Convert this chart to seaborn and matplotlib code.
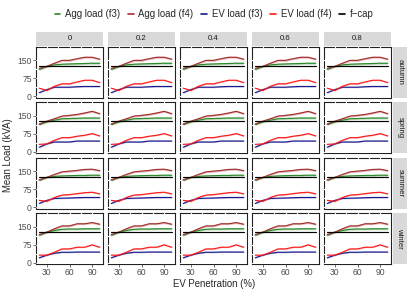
import pandas as pd
import matplotlib
matplotlib.use("Agg")
import matplotlib.pyplot as plt
import seaborn as sns

# ---- data ----
pen = [20, 30, 40, 50, 60, 70, 80, 90, 100]
shares = ["0", "0.2", "0.4", "0.6", "0.8"]
seasons = ["autumn", "spring", "summer", "winter"]

fcap = {"autumn": 125, "spring": 127, "summer": 125, "winter": 127}

agg_f3 = {
    "autumn": [111, 124, 130, 133, 134, 135, 136, 137, 137],
    "spring": [113, 124, 131, 137, 138, 139, 140, 140, 140],
    "summer": [112, 124, 128, 130, 131, 132, 132, 133, 133],
    "winter": [114, 127, 134, 139, 140, 140, 141, 141, 141],
}
agg_f4 = {
    "autumn": [116, 124, 137, 149, 149, 156, 162, 162, 154],
    "spring": [115, 127, 137, 148, 151, 155, 161, 168, 158],
    "summer": [114, 124, 136, 147, 150, 153, 157, 158, 152],
    "winter": [117, 127, 141, 153, 153, 162, 162, 167, 160],
}
ev_f3 = {
    "autumn": [14, 27, 37, 37, 37, 39, 40, 40, 40],
    "spring": [18, 32, 40, 40, 40, 44, 44, 44, 44],
    "summer": [15, 28, 36, 37, 38, 39, 40, 40, 40],
    "winter": [20, 31, 39, 43, 43, 44, 44, 44, 44],
}
ev_f4 = {
    "autumn": [33, 23, 41, 51, 51, 59, 66, 66, 56],
    "spring": [30, 32, 47, 58, 58, 64, 68, 75, 65],
    "summer": [28, 24, 40, 50, 52, 56, 60, 62, 55],
    "winter": [31, 31, 43, 57, 57, 64, 64, 74, 64],
}

series_names = ["Agg load (f3)", "Agg load (f4)", "EV load (f3)", "EV load (f4)", "f\u2212cap"]
series_colors = ["#2b8a2b", "#a53030", "#1a1a8c", "#ff1a1a", "black"]
band_width = [4, 4, 2, 2, 0]   # half width of the shaded ribbon

# long table for seaborn
rows = []
for s in seasons:
    for sh in shares:
        vals = [agg_f3[s], agg_f4[s], ev_f3[s], ev_f4[s], [fcap[s]] * len(pen)]
        for name, v in zip(series_names, vals):
            for x, y in zip(pen, v):
                rows.append({"season": s, "share": sh, "series": name, "pen": x, "load": y})
df = pd.DataFrame(rows)

# ---- figure ----
sns.set_theme(style="white")
plt.rcParams['font.family'] = ['Liberation Sans', 'DejaVu Sans']

W, H = 411, 294
fig = plt.figure(figsize=(W / 100, H / 100), dpi=100)

col_left = [36, 108, 180, 252, 324]
row_top = [46.5, 102, 157.5, 213]
pw, ph = 67, 51

def rect(l, t, w, h):
    return [l / W, 1 - (t + h) / H, w / W, h / H]

palette = dict(zip(series_names, series_colors))

for i, s in enumerate(seasons):
    for j, sh in enumerate(shares):
        ax = fig.add_axes(rect(col_left[j], row_top[i], pw, ph))
        sub = df[(df.season == s) & (df.share == sh)]
        for name, c, bw in zip(series_names, series_colors, band_width):
            d = sub[sub.series == name]
            if bw > 0:
                ax.fill_between(d.pen, d.load - bw, d.load + bw, color=c, alpha=0.3, lw=0, zorder=2.8)
        sns.lineplot(data=sub, x="pen", y="load", hue="series", hue_order=series_names,
                     palette=palette, ax=ax, legend=False, lw=0.85, zorder=3)
        ax.set_xlim(15.7, 104.3)
        ax.set_ylim(-6, 207)
        ax.set_xticks([30, 60, 90])
        ax.set_xticks([45, 75], minor=True)
        ax.set_yticks([0, 75, 150])
        ax.set_yticks([37.5, 112.5], minor=True)
        ax.set_axisbelow(False)
        ax.grid(which="both", color="white", lw=0.9)
        for sp in ax.spines.values():
            sp.set_color("#222222")
            sp.set_linewidth(0.8)
            sp.set_zorder(2)
        ax.set_xlabel("")
        ax.set_ylabel("")
        ax.tick_params(which="major", length=2, width=0.5, color="#333333",
                       labelsize=6.2, labelcolor="#4D4D4D", pad=1)
        ax.tick_params(which="minor", length=0)
        ax.tick_params(axis="x", bottom=(i == 3), labelbottom=(i == 3))
        ax.tick_params(axis="y", left=(j == 0), labelleft=(j == 0))

        # top strips
        if i == 0:
            st = fig.add_axes(rect(col_left[j], 32, pw, 13.5))
            st.set_facecolor("#D9D9D9")
            st.set_xticks([]); st.set_yticks([])
            for sp in st.spines.values():
                sp.set_visible(False)
            st.text(0.5, 0.5, sh, ha="center", va="center", fontsize=5.6, color="#1A1A1A")
    # right strips
    st = fig.add_axes(rect(393, row_top[i], 14, ph))
    st.set_facecolor("#D9D9D9")
    st.set_xticks([]); st.set_yticks([])
    for sp in st.spines.values():
        sp.set_visible(False)
    st.text(0.5, 0.5, s, ha="center", va="center", rotation=-90, fontsize=5.6, color="#1A1A1A")

# axis titles
fig.text(214 / W, 1 - 284 / H, "EV Penetration (%)", ha="center", va="center", fontsize=6.9)
fig.text(8 / W, 1 - 155 / H, "Mean Load (kVA)", ha="center", va="center", rotation=90, fontsize=6.9)

# legend
handles = [plt.Line2D([], [], color=c, lw=1.2) for c in series_colors]
fig.legend(handles, series_names, loc="center", bbox_to_anchor=(214 / W, 1 - 14 / H), ncol=5,
           frameon=False, fontsize=6.9, handlelength=0.6, handletextpad=0.5, columnspacing=0.8)

fig.savefig("out.png", dpi=100)
